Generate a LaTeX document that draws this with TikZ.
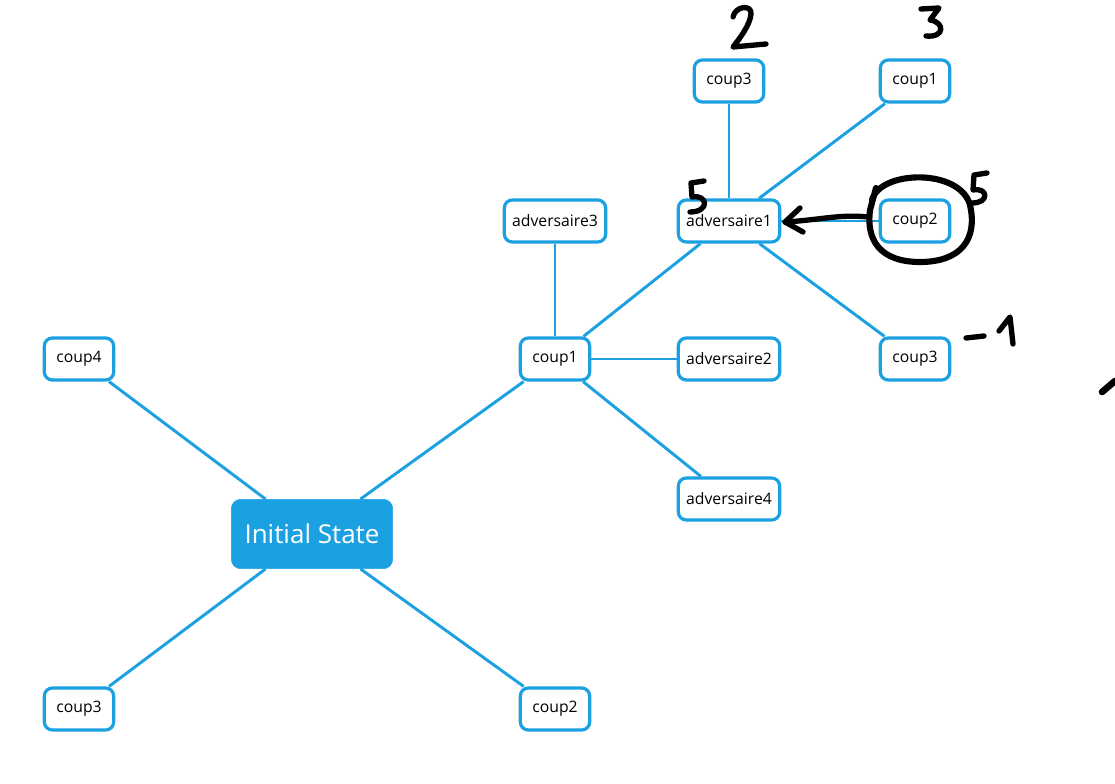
\documentclass[tikz,border=0pt]{standalone}
\usepackage{fontspec}
\setmainfont{Open Sans}
\usetikzlibrary{arrows.meta,backgrounds}
\definecolor{mblue}{HTML}{1BA1E2}
\tikzset{
  box/.style={draw=mblue, line width=2.4pt, rounded corners=6pt, fill=white, inner sep=2pt,
    minimum height=31.5pt, font=\fontsize{11.8}{13}\selectfont},
  cbox/.style={box, minimum width=52pt},
  abox/.style={box, minimum width=76pt},
  root/.style={fill=mblue, draw=mblue, rounded corners=7pt, text=white, minimum width=121pt,
    minimum height=52pt, font=\fontsize{19.5}{22}\selectfont},
  link/.style={mblue, line width=2.2pt},
  ink/.style={black, line width=4pt, line cap=round, line join=round},
}
\begin{document}
\begin{tikzpicture}[x=0.75pt, y=-0.75pt]
\useasboundingbox (0,0) rectangle (1115,784);
\node[root] (init) at (312,534) {Initial State};
\node[cbox] (c4) at (79,359) {coup4};
\node[cbox] (c3b) at (79,709) {coup3};
\node[cbox] (c2b) at (555,709) {coup2};
\node[cbox] (c1m) at (555,359) {coup1};
\node[abox] (a3) at (555,221) {adversaire3};
\node[abox] (a2) at (729,359) {adversaire2};
\node[abox] (a4) at (729,499) {adversaire4};
\node[abox] (a1) at (729,221) {adversaire1};
\node[cbox] (c3t) at (729,81) {coup3};
\node[cbox] (c1t) at (915,81) {coup1};
\node[cbox] (c2r) at (915,221) {coup2};
\node[cbox] (c3r) at (915,359) {coup3};
\begin{scope}[on background layer]
\draw[link] (init) -- (c4);
\draw[link] (init) -- (c3b);
\draw[link] (init) -- (c2b);
\draw[link] (init) -- (c1m);
\draw[link] (c1m) -- (a3);
\draw[link] (c1m) -- (a2);
\draw[link] (c1m) -- (a4);
\draw[link] (c1m) -- (a1);
\draw[link] (a1) -- (c3t);
\draw[link] (a1) -- (c1t);
\draw[link] (a1) -- (c2r);
\draw[link] (a1) -- (c3r);
\end{scope}
% handwritten annotations
\coordinate (arrS) at (868,217);
\coordinate (arrE) at (785,222);
\draw[ink] (arrS) .. controls (840,214) and (820,220) .. (arrE);
\draw[ink] (800,208) -- (arrE) -- (803,232);
% circle around coup2
\draw[ink, line width=4.6pt] (872,200) .. controls (880,170) and (960,168) .. (970,205)
  .. controls (978,240) and (960,262) .. (920,262)
  .. controls (880,262) and (866,240) .. (870,210) -- (876,188);
% 2
\draw[ink] (733,17) .. controls (735,6) and (752,4) .. (751,14)
  .. controls (750,25) and (740,38) .. (733,47) -- (766,44);
% 3
\draw[ink] (921,9) -- (939,8) -- (930,20) .. controls (945,22) and (945,38) .. (926,36);
% 5 near adversaire1
\draw[ink] (704,181) -- (691,183) -- (692,197) .. controls (708,194) and (710,212) .. (690,212);
% 5 right
\draw[ink] (987,173) -- (974,175) -- (973,190) .. controls (988,187) and (990,203) .. (972,203);
% -1
\draw[ink] (966,338) -- (984,336);
\draw[ink] (999,331) -- (1010,317) -- (1013,344);
% stroke at right edge
\draw[ink, line width=5pt] (1102,392) -- (1115,381);
\end{tikzpicture}
\end{document}
